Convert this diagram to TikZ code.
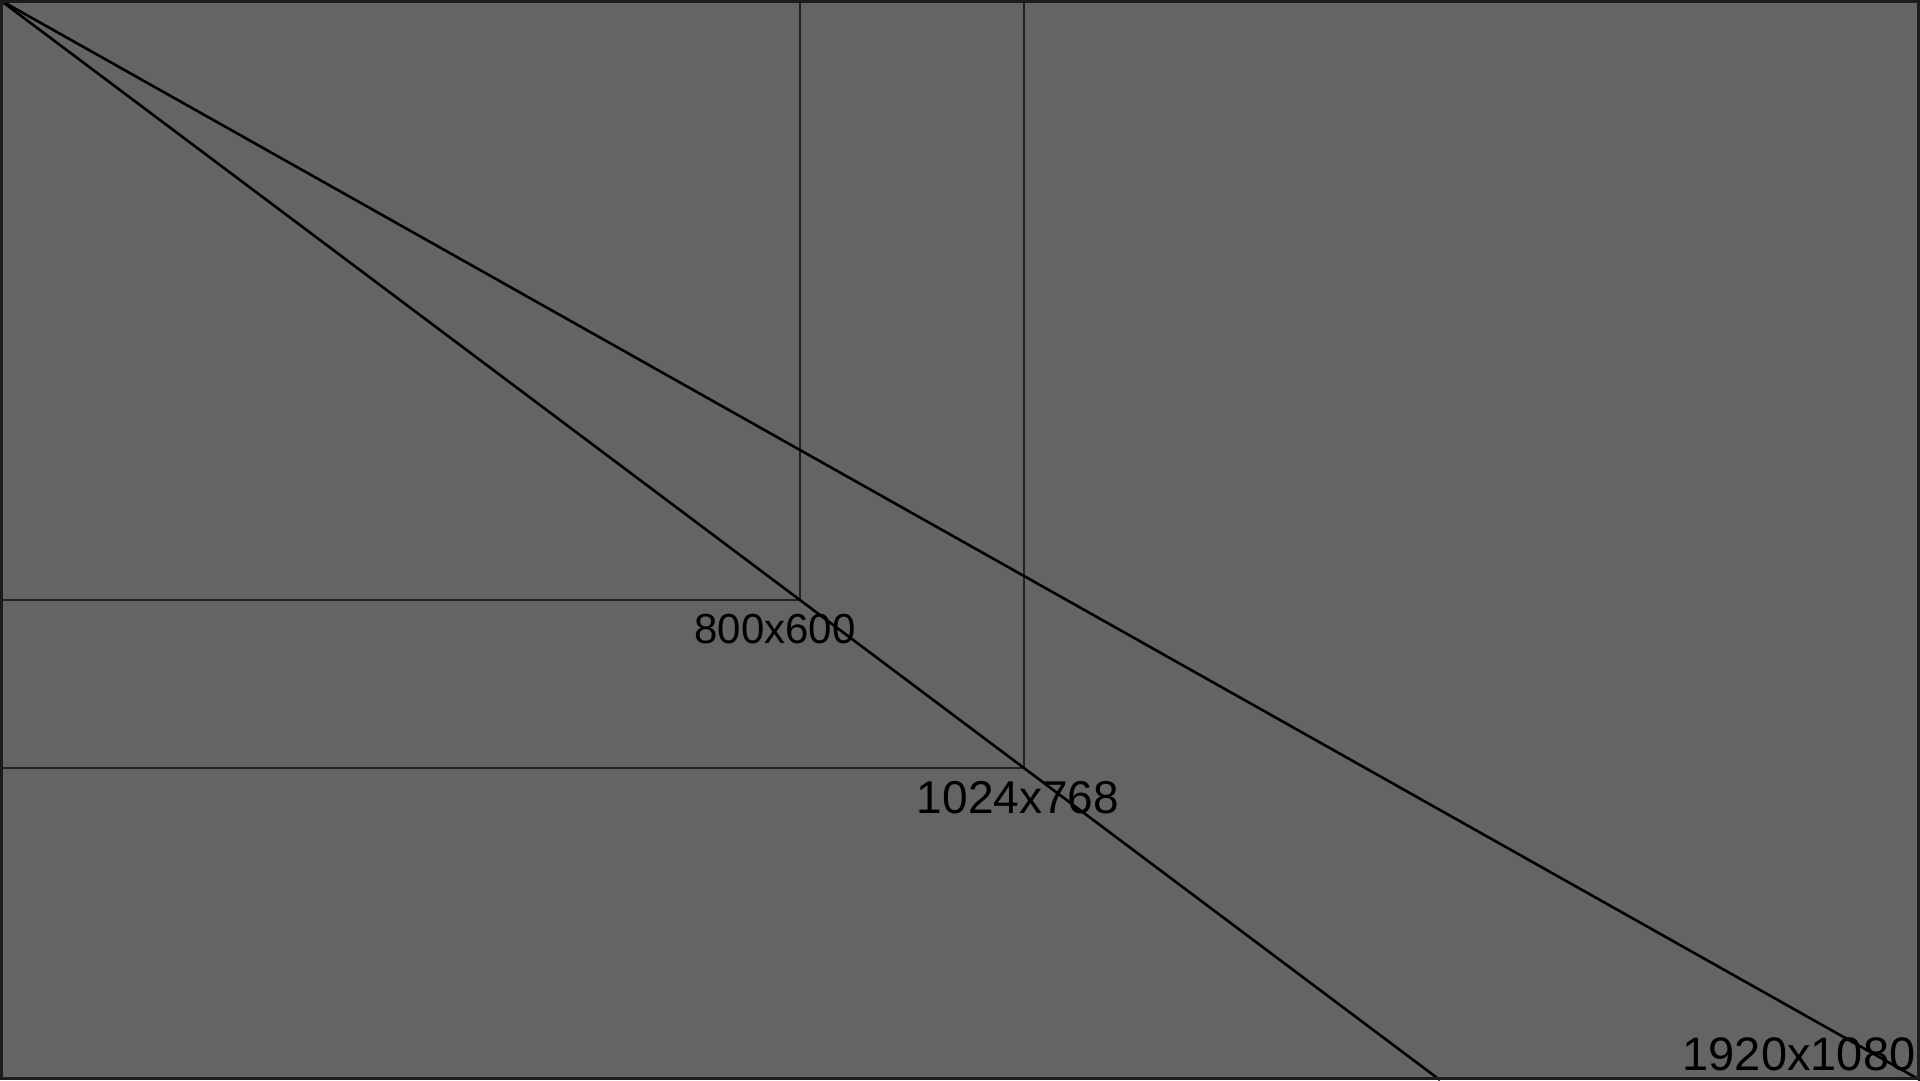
\documentclass[tikz,border=0pt]{standalone}
\usepackage{fontspec}
\setmainfont{Liberation Sans}
\definecolor{bg}{RGB}{100,100,100}
\definecolor{frame}{RGB}{28,28,28}
\definecolor{guide}{RGB}{34,34,34}
\begin{document}
\begin{tikzpicture}[x=1pt,y=-1pt,
  guideline/.style={draw=guide,line width=1.2pt},
  diag/.style={draw=black,line width=2.6pt},
  sizelabel/.style={inner sep=0pt,anchor=base,text=black}]
\useasboundingbox (0,0) rectangle (1920,1080);
\fill[bg] (0,0) rectangle (1920,1080);
% guide rectangles
\coordinate (o) at (0,0);
\coordinate (c800) at (800,600);
\coordinate (c1024) at (1024,768);
\coordinate (l800) at (0,600);
\coordinate (t800) at (800,0);
\coordinate (l1024) at (0,768);
\coordinate (t1024) at (1024,0);
\coordinate (endA) at (1440,1080);
\coordinate (endB) at (1920,1080);
\draw[guideline] (l800) -- (c800) -- (t800);
\draw[guideline] (l1024) -- (c1024) -- (t1024);
% diagonals
\draw[diag] (o) -- (endA);
\draw[diag] (o) -- (endB);
% labels
\node[sizelabel,font=\fontsize{42}{50}\selectfont] (n800) at (775,643) {800x600};
\node[sizelabel,font=\fontsize{46}{54}\selectfont] (n1024) at (1018,813) {1024x768};
\node[sizelabel,font=\fontsize{47}{56}\selectfont] (n1920) at (1799,1070) {1920x1080};
% frame
\draw[frame,line width=3pt] (1.5,1.5) rectangle (1918.5,1078.5);
\end{tikzpicture}
\end{document}
